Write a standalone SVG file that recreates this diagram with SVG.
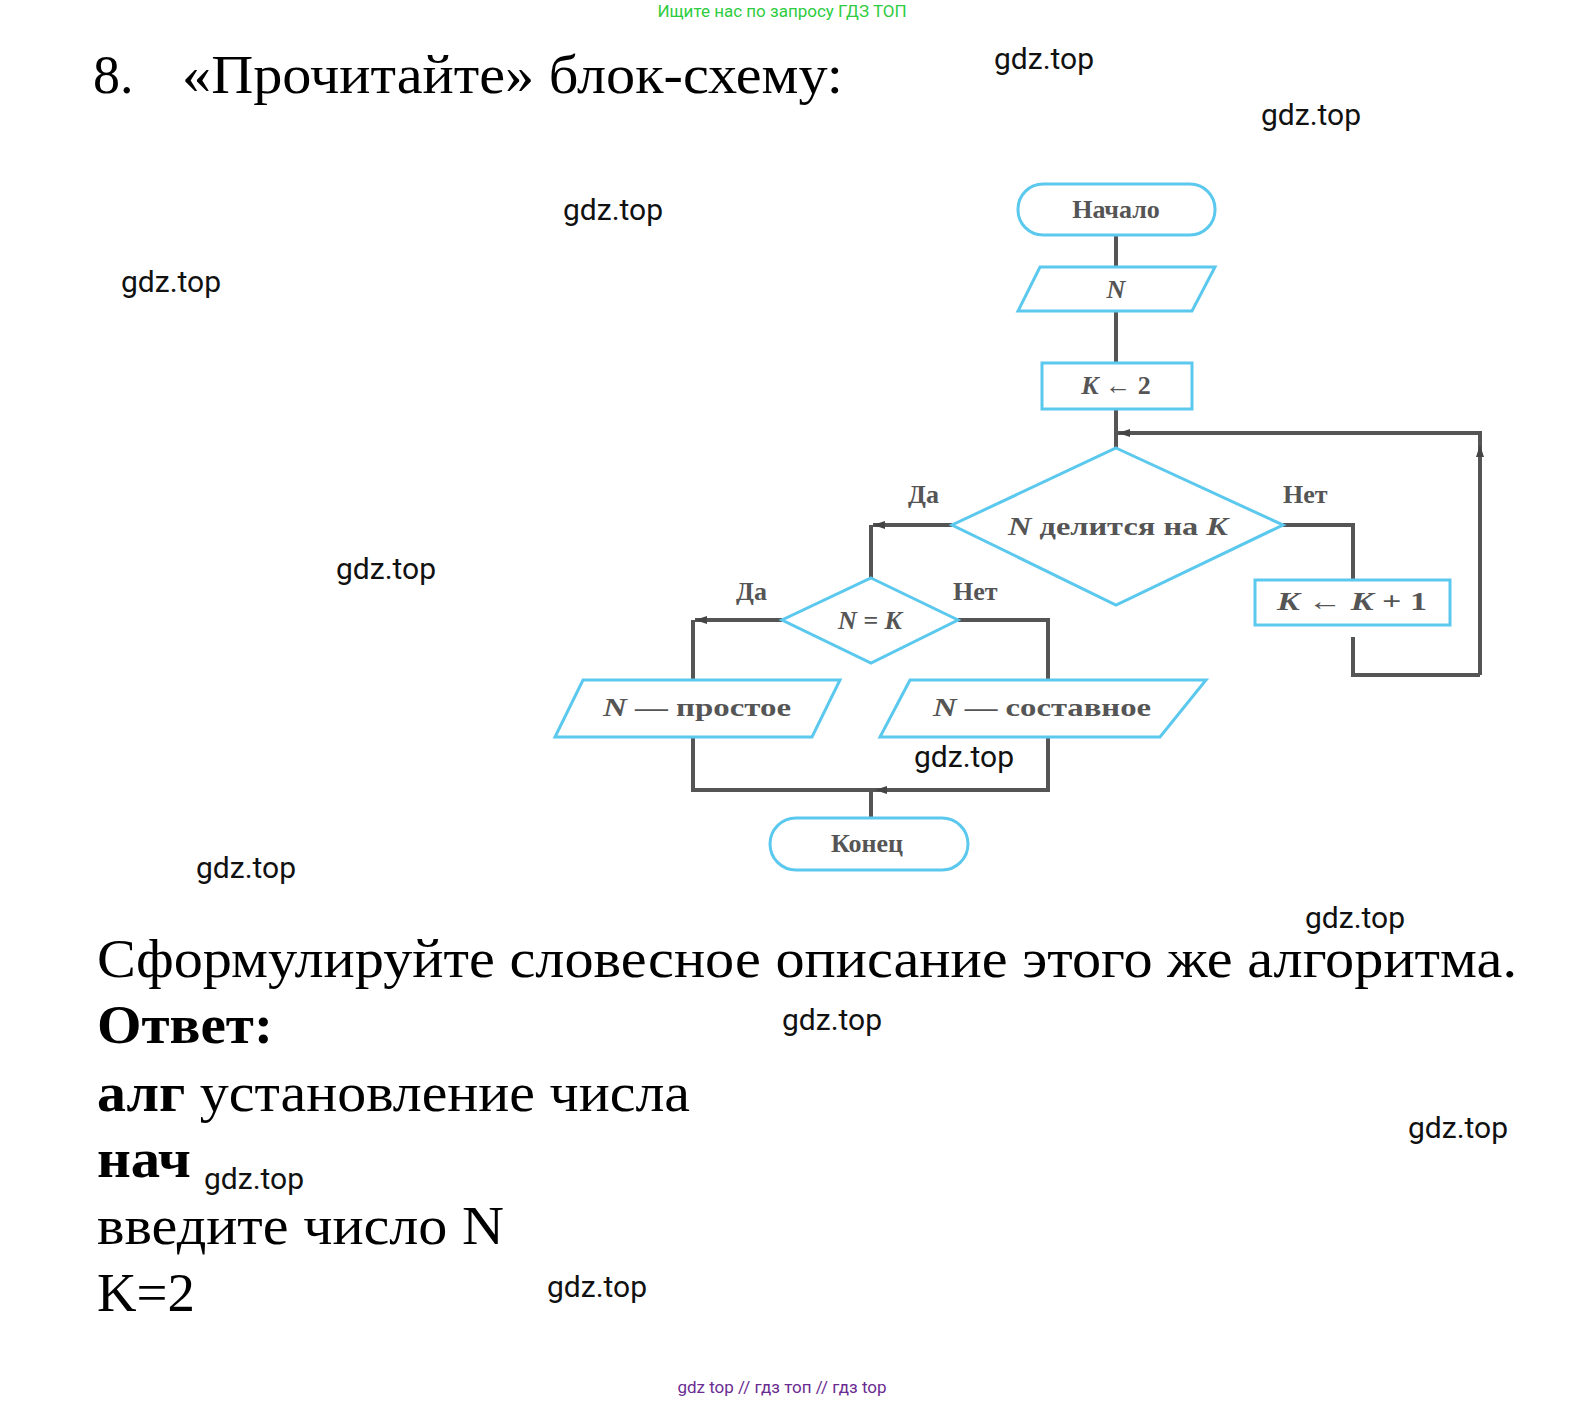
<svg xmlns="http://www.w3.org/2000/svg" width="1573" height="1406" viewBox="0 0 1573 1406">
<defs>
<marker id="ar" markerWidth="12" markerHeight="8" refX="12" refY="4" orient="auto" markerUnits="userSpaceOnUse"><path d="M0,0 L12,4 L0,8 Z" fill="#444"/></marker>
</defs>
<style>
.s{fill:#fff;stroke:#5bc8ee;stroke-width:3}
.c{fill:none;stroke:#555;stroke-width:4}
.t{font-family:"Liberation Serif",serif;fill:#555;font-size:26px;font-weight:bold;text-anchor:middle}
.i{font-style:italic}
.w{font-family:Roboto,sans-serif;font-size:30px;fill:#111}
.b{font-family:"Liberation Serif",serif;fill:#000}
</style>
<rect width="1573" height="1406" fill="#fff"/>
<text x="782" y="17" font-family="Roboto,sans-serif" font-size="17" fill="#2ecc40" text-anchor="middle">Ищите нас по запросу ГДЗ ТОП</text>
<text x="93" y="93" class="b" font-size="54">8.</text>
<text x="182" y="93" class="b" font-size="54" textLength="661" lengthAdjust="spacingAndGlyphs">«Прочитайте» блок-схему:</text>
<g id="connectors">
<path class="c" d="M1116,235 V267 M1116,311 V363 M1116,409 V448"/>
<path class="c" d="M1480,675 V433 H1118" marker-end="url(#ar)"/>
<path class="c" d="M1480,475 V445" marker-end="url(#ar)"/>
<path class="c" d="M1283,525 H1353 V580 M1353,637 V675 H1480"/>
<path class="c" d="M952,525 H873" marker-end="url(#ar)"/>
<path class="c" d="M871,525 V578"/>
<path class="c" d="M782,620 H695" marker-end="url(#ar)"/>
<path class="c" d="M693,620 V680 M958,620 H1048 V680"/>
<path class="c" d="M693,737 V790 H1048 V737"/>
<path class="c" d="M910,790 H875" marker-end="url(#ar)"/>
<path class="c" d="M871,790 V818"/>
</g>
<g id="start"><rect class="s" x="1018" y="184" width="197" height="51" rx="25"/><text class="t" x="1116" y="218">Начало</text></g>
<g id="input"><polygon class="s" points="1040,267 1215,267 1192,311 1018,311"/><text class="t i" x="1116" y="298">N</text></g>
<g id="init"><rect class="s" x="1042" y="363" width="150" height="46"/><text class="t" x="1116" y="394"><tspan class="i">K</tspan> ← 2</text></g>
<g id="cond1"><polygon class="s" points="1116,448 1283,525 1116,605 952,525"/><text class="t" x="1118" y="535" textLength="220" lengthAdjust="spacingAndGlyphs"><tspan class="i">N</tspan> делится на <tspan class="i">K</tspan></text></g>
<g id="inc"><rect class="s" x="1255" y="580" width="195" height="45"/><text class="t" x="1352" y="610" textLength="150" lengthAdjust="spacingAndGlyphs"><tspan class="i">K</tspan> ← <tspan class="i">K</tspan> + 1</text></g>
<g id="cond2"><polygon class="s" points="871,578 958,620 871,663 782,620"/><text class="t i" x="870" y="629">N = K</text></g>
<g id="prime"><polygon class="s" points="583,680 840,680 812,737 555,737"/><text class="t" x="697" y="716" textLength="188" lengthAdjust="spacingAndGlyphs"><tspan class="i">N</tspan> — простое</text></g>
<g id="composite"><polygon class="s" points="910,680 1206,680 1160,737 880,737"/><text class="t" x="1042" y="716" textLength="218" lengthAdjust="spacingAndGlyphs"><tspan class="i">N</tspan> — составное</text></g>
<g id="end"><rect class="s" x="770" y="818" width="198" height="52" rx="26"/><text class="t" x="867" y="852">Конец</text></g>
<g id="labels" font-family="Liberation Serif,serif" font-size="26" font-weight="bold" fill="#555">
<text x="908" y="503">Да</text><text x="1283" y="503">Нет</text>
<text x="736" y="600">Да</text><text x="953" y="600">Нет</text>
</g>
<text x="97" y="977" class="b" font-size="54" textLength="1420" lengthAdjust="spacingAndGlyphs">Сформулируйте словесное описание этого же алгоритма.</text>
<text x="97" y="1043" class="b" font-size="54" font-weight="bold" textLength="176" lengthAdjust="spacingAndGlyphs">Ответ:</text>
<text x="97" y="1111" class="b" font-size="54" textLength="593" lengthAdjust="spacingAndGlyphs"><tspan font-weight="bold">алг</tspan> установление числа</text>
<text x="97" y="1177" class="b" font-size="54" font-weight="bold" textLength="94" lengthAdjust="spacingAndGlyphs">нач</text>
<text x="97" y="1244" class="b" font-size="54" textLength="407" lengthAdjust="spacingAndGlyphs">введите число N</text>
<text x="97" y="1311" class="b" font-size="54" textLength="98" lengthAdjust="spacingAndGlyphs">K=2</text>
<g class="w">
<text x="994" y="69">gdz.top</text><text x="1261" y="125">gdz.top</text><text x="563" y="220">gdz.top</text>
<text x="121" y="292">gdz.top</text><text x="336" y="579">gdz.top</text><text x="914" y="767">gdz.top</text>
<text x="196" y="878">gdz.top</text><text x="1305" y="928">gdz.top</text><text x="782" y="1030">gdz.top</text>
<text x="1408" y="1138">gdz.top</text><text x="204" y="1189">gdz.top</text><text x="547" y="1297">gdz.top</text>
</g>
<text x="782" y="1393" font-family="Roboto,sans-serif" font-size="17" fill="#6a2c91" text-anchor="middle">gdz top  //  гдз топ  //  гдз top</text>
</svg>
